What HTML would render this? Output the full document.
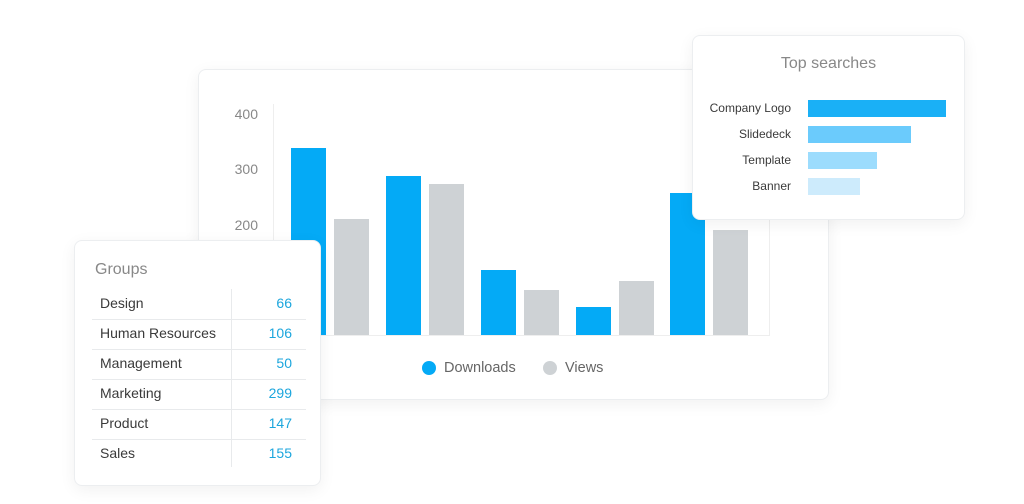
<!DOCTYPE html>
<html><head><style>
body{margin:0;width:1024px;height:504px;background:#fff;position:relative;overflow:hidden;font-family:"Liberation Sans",sans-serif}
.a{position:absolute}
.card{position:absolute;background:#fff;border:1px solid #eceef0;border-radius:8px;box-shadow:0 4px 16px rgba(0,0,0,0.06)}
.b{position:absolute;width:35px}
.bl{background:#04aaf6}.gr{background:#ced2d5}
.yl{position:absolute;left:222px;width:36px;text-align:right;color:#888;font-size:14px}
.row{position:absolute;left:17px;width:214px;height:30px;border-bottom:1px solid #e8eaec;font-size:14px;color:#3a3a3a;line-height:29px}
.row span{position:absolute;right:14px;color:#1ca6dd;left:auto}
.row b{font-weight:normal;position:absolute;left:8px}
.ts{position:absolute;right:173px;font-size:12px;color:#3a3a3a;text-align:right}
</style></head><body>
<div class="card" style="left:198px;top:69px;width:629px;height:329px"></div>
<div class="yl" style="top:106px">400</div>
<div class="yl" style="top:161px">300</div>
<div class="yl" style="top:217px">200</div>
<div class="a" style="left:273px;top:104px;width:1px;height:231px;background:#eee"></div>
<div class="a" style="left:273px;top:335px;width:497px;height:1px;background:#eee"></div>
<div class="a" style="left:769px;top:215px;width:1px;height:120px;background:#eee"></div>
<div class="b bl" style="left:291px;top:148px;height:187px"></div>
<div class="b gr" style="left:334px;top:219px;height:116px"></div>
<div class="b bl" style="left:386px;top:176px;height:159px"></div>
<div class="b gr" style="left:429px;top:184px;height:151px"></div>
<div class="b bl" style="left:481px;top:270px;height:65px"></div>
<div class="b gr" style="left:524px;top:290px;height:45px"></div>
<div class="b bl" style="left:576px;top:307px;height:28px"></div>
<div class="b gr" style="left:619px;top:281px;height:54px"></div>
<div class="b bl" style="left:670px;top:193px;height:142px"></div>
<div class="b gr" style="left:713px;top:230px;height:105px"></div>
<div class="a" style="left:422px;top:361px;width:14px;height:14px;border-radius:50%;background:#04aaf6"></div>
<div class="a" style="left:444px;top:360px;font-size:14.5px;color:#666">Downloads</div>
<div class="a" style="left:543px;top:361px;width:14px;height:14px;border-radius:50%;background:#ced2d5"></div>
<div class="a" style="left:565px;top:360px;font-size:14.5px;color:#666">Views</div>

<div class="card" style="left:74px;top:240px;width:245px;height:244px">
<div class="a" style="left:20px;top:20px;font-size:16px;color:#888">Groups</div>
<div class="a" style="left:156px;top:48px;width:1px;height:178px;background:#e8eaec"></div>
<div class="row" style="top:48px"><b>Design</b><span>66</span></div>
<div class="row" style="top:78px"><b>Human Resources</b><span>106</span></div>
<div class="row" style="top:108px"><b>Management</b><span>50</span></div>
<div class="row" style="top:138px"><b>Marketing</b><span>299</span></div>
<div class="row" style="top:168px"><b>Product</b><span>147</span></div>
<div class="row" style="top:198px;border:none"><b>Sales</b><span>155</span></div>
</div>

<div class="card" style="left:692px;top:35px;width:271px;height:183px">
<div class="a" style="left:0;width:271px;top:19px;text-align:center;font-size:16px;color:#888">Top searches</div>
<div class="ts" style="top:65px">Company Logo</div>
<div class="ts" style="top:91px">Slidedeck</div>
<div class="ts" style="top:117px">Template</div>
<div class="ts" style="top:143px">Banner</div>
<div class="a" style="left:115px;top:64px;width:138px;height:17px;background:#1ab0f6"></div>
<div class="a" style="left:115px;top:90px;width:103px;height:17px;background:#6bcbfc"></div>
<div class="a" style="left:115px;top:116px;width:69px;height:17px;background:#9cdcfd"></div>
<div class="a" style="left:115px;top:142px;width:52px;height:17px;background:#cdebfc"></div>
</div>
</body></html>
